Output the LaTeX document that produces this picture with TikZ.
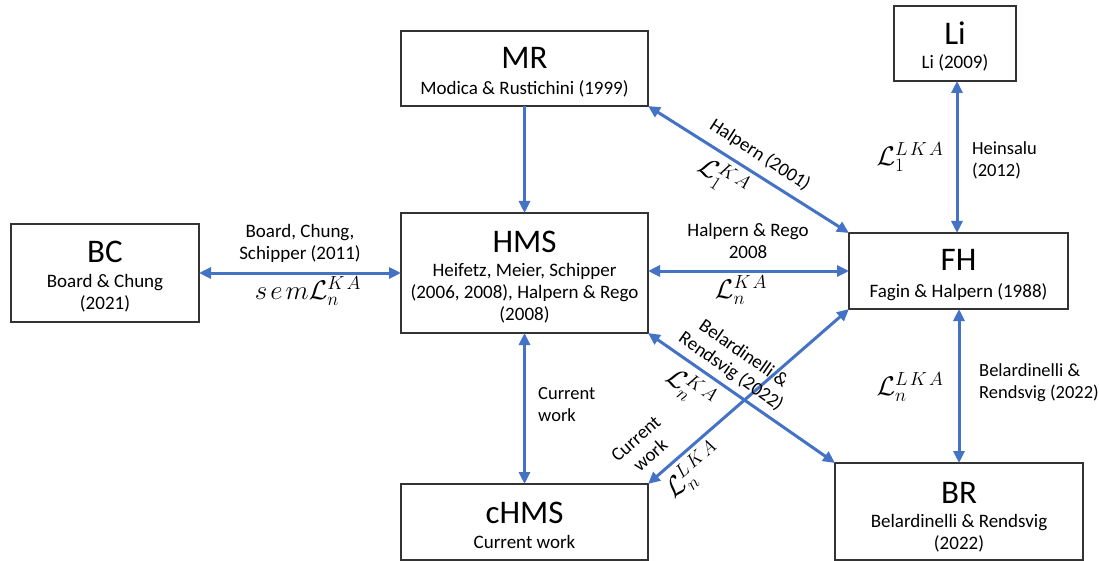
\RequirePackage{fix-cm}
\documentclass[tikz,border=0pt]{standalone}
\usepackage[no-math]{fontspec}
\setmainfont{Carlito}
\usetikzlibrary{arrows.meta}
\definecolor{arrblue}{HTML}{4472C4}
\tikzset{
  box/.style={draw=black!80, line width=1.3pt, inner sep=0pt, outer sep=0pt, fill=white},
  ttl/.style={inner sep=0pt, font=\fontsize{33}{36}\selectfont},
  sub/.style={inner sep=0pt, align=center, font=\fontsize{19}{22}\selectfont},
  lbl/.style={inner sep=0pt, align=center, font=\fontsize{19}{22}\selectfont},
  lbll/.style={inner sep=0pt, align=left, anchor=west, font=\fontsize{18.5}{22}\selectfont},
  mlbl/.style={inner sep=0pt, font=\fontsize{27}{30}\selectfont},
  conn/.style={draw=arrblue, line width=3pt, {Triangle[length=12pt,width=11pt]}-{Triangle[length=12pt,width=11pt]}},
  oneway/.style={draw=arrblue, line width=3pt, -{Triangle[length=12pt,width=11pt]}}
}
\newcommand{\kasup}{K\mkern2mu A}
\newcommand{\lkasup}{L\mkern2mu K\mkern2mu A}
\begin{document}
\begin{tikzpicture}[x=1pt,y=-1pt]
\useasboundingbox[fill=white] (0,0) rectangle (1099,561);
% boxes
\node[box, minimum width=188pt, minimum height=98pt] (BC) at (105,273) {};
\node[box, minimum width=247pt, minimum height=75pt] (MR) at (524.5,68.5) {};
\node[box, minimum width=247pt, minimum height=120pt] (HMS) at (524.5,273) {};
\node[box, minimum width=247pt, minimum height=76pt] (cHMS) at (524.5,522) {};
\node[box, minimum width=122pt, minimum height=75pt] (Li) at (955,43.5) {};
\node[box, minimum width=219pt, minimum height=76pt] (FH) at (958.5,271) {};
\node[box, minimum width=248pt, minimum height=97pt] (BR) at (959,511.5) {};
% box texts
\node[ttl] (BCt) at (105,252) {BC};
\node[sub] (BCs) at (105,293) {Board \& Chung\\(2021)};
\node[ttl] (MRt) at (524.5,58) {MR};
\node[sub] (MRs) at (524.5,89) {Modica \& Rustichini (1999)};
\node[ttl] (HMSt) at (524.5,242) {HMS};
\node[sub] (HMSs) at (524.5,293.5) {Heifetz, Meier, Schipper\\(2006, 2008), Halpern \& Rego\\(2008)};
\node[ttl] (cHMSt) at (524.5,513) {cHMS};
\node[sub] (cHMSs) at (524.5,542) {Current work};
\node[ttl] (Lit) at (955,33) {Li};
\node[sub] (Lis) at (955,63) {Li (2009)};
\node[ttl] (FHt) at (958.5,260) {FH};
\node[sub] (FHs) at (958.5,292) {Fagin \& Halpern (1988)};
\node[ttl] (BRt) at (959,493) {BR};
\node[sub] (BRs) at (959,533.5) {Belardinelli \& Rendsvig\\(2022)};
% connectors
\draw[oneway] (MR.south) -- (HMS.north);
\draw[conn] (BC.east) -- (HMS.west);
\draw[conn] (HMS.east |- FH.west) -- (FH.west);
\draw[conn] (MR.south east) -- (FH.north west);
\draw[conn] (HMS.south east) -- (BR.north west);
\draw[conn] (cHMS.north east) -- (FH.south west);
\draw[conn] (HMS.south) -- (cHMS.north);
\draw[conn] (Li.south -| 957,0) -- (957,0 |- FH.north);
\draw[conn] (959,0 |- FH.south) -- (959,0 |- BR.north);
% connector labels
\node[lbl] (l1) at (300,243.5) {Board, Chung,\\Schipper (2011)};
\node[mlbl] (m1) at (308,291) {$s\mkern2mu e\mkern2mu m\mathcal{L}_n^{\kasup}$};
\node[lbl] (l2) at (748,240.5) {Halpern \& Rego\\2008};
\node[mlbl] (m2) at (741,290) {$\mathcal{L}_n^{\kasup}$};
\node[lbl, rotate=-33] (l3) at (760,155) {Halpern (2001)};
\node[mlbl, rotate=-33] (m3) at (723,178) {$\mathcal{L}_1^{\kasup}$};
\node[lbl, rotate=-35] (l4) at (737,363) {Belardinelli \&\\Rendsvig (2022)};
\node[mlbl, rotate=-35] (m4) at (690,389) {$\mathcal{L}_n^{\kasup}$};
\node[lbl, rotate=41.5] (l5) at (643,447) {Current\\work};
\node[mlbl, rotate=41.5] (m5) at (694,471) {$\mathcal{L}_n^{\lkasup}$};
\node[lbll] (l6) at (972,160) {Heinsalu\\(2012)};
\node[mlbl] (m6) at (910,157) {$\mathcal{L}_1^{\lkasup}$};
\node[lbll] (l7) at (979,383) {Belardinelli \&\\Rendsvig (2022)};
\node[mlbl] (m7) at (910,387) {$\mathcal{L}_n^{\lkasup}$};
\node[lbll] (l8) at (538,405) {Current\\work};
\end{tikzpicture}
\end{document}
